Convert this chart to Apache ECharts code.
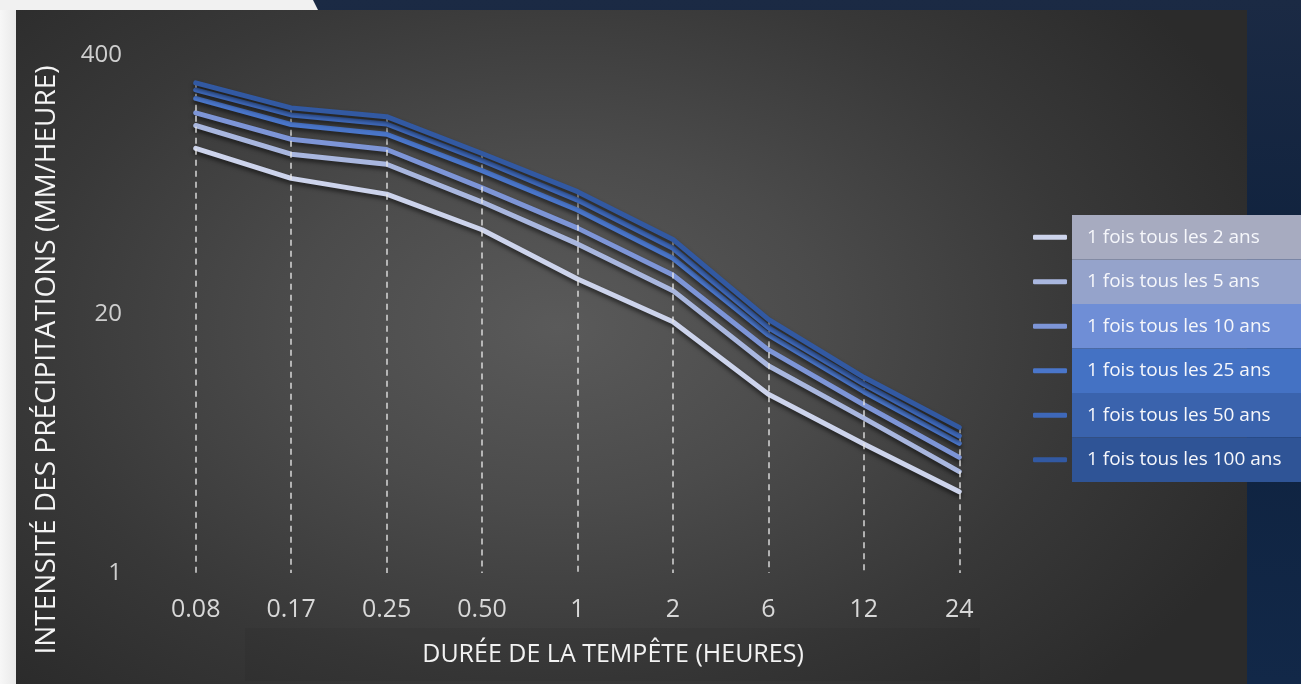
<!DOCTYPE html>
<html lang="fr">
<head>
<meta charset="utf-8">
<title>Intensité des précipitations</title>
<script src="https://cdn.jsdelivr.net/npm/echarts@6/dist/echarts.min.js"></script>
<style>
  html, body { margin: 0; padding: 0; }
  body {
    width: 1301px; height: 684px; overflow: hidden; position: relative;
    background: linear-gradient(180deg, #1b2a44 0%, #0e213d 45%, #122848 100%);
  }
  #sheet-left {
    position: absolute; left: 0; top: 0; width: 16px; height: 684px;
    background: linear-gradient(90deg, #f7f7f7, #e9e9e9);
  }
  #sheet-top {
    position: absolute; left: 0; top: 0; width: 320px; height: 10px;
    background: #f1f1f1;
    clip-path: polygon(0 0, 313px 0, 318px 10px, 0 10px);
  }
  #panel {
    position: absolute; left: 16px; top: 10px; width: 1231px; height: 674px;
    background: radial-gradient(ellipse 62% 75% at 44% 47%, #5a5a5a 0%, #4b4b4b 35%, #383838 70%, #2b2b2b 100%);
  }
  #chart { position: absolute; left: 0; top: 0; width: 1301px; height: 684px; }
</style>
</head>
<body>
<div id="sheet-left"></div>
<div id="sheet-top"></div>
<div id="panel"></div>
<div id="chart"></div>
<script>
// Durée de la tempête (heures)
const durations = ['0.08', '0.17', '0.25', '0.50', '1', '2', '6', '12', '24'];
// Graduations de l'axe logarithmique (mm/heure)
const intensityTicks = [1, 20, 400];

// Intensité (mm/heure) par période de retour
const seriesNames = [
  '1 fois tous les 2 ans',
  '1 fois tous les 5 ans',
  '1 fois tous les 10 ans',
  '1 fois tous les 25 ans',
  '1 fois tous les 50 ans',
  '1 fois tous les 100 ans'
];
const retour2   = [136, 96, 80, 53, 30, 18.3, 7.9, 4.45, 2.56];
const retour5   = [177, 127, 113, 73, 45, 26.2, 11.0, 6.0, 3.23];
const retour10  = [205, 151, 134, 86, 54, 31.4, 13.2, 7.0, 3.81];
const retour25  = [242, 179, 160, 105, 66.6, 38.1, 15.7, 8.14, 4.48];
const retour50  = [267, 200, 180, 118, 74.7, 42.8, 17.1, 8.9, 4.88];
const retour100 = [290, 217, 196, 128, 82.3, 47.4, 18.8, 9.62, 5.39];
const seriesValues = [retour2, retour5, retour10, retour25, retour50, retour100];

// Couleurs des courbes et des cases de la légende
const lineColors = ['#cdd4ec', '#a9b7df', '#7d95d7', '#4a76ca', '#3e68b9', '#3259a2'];
const boxColors  = ['#a7abc0', '#95a3cb', '#6f8ed6', '#4472c4', '#3a63ad', '#2f5496'];

const chart = echarts.init(document.getElementById('chart'), null, { renderer: 'canvas' });

const rich = {};
boxColors.forEach((c, i) => {
  rich['b' + i] = {
    backgroundColor: c,
    width: 214,
    height: 44.5,
    lineHeight: 44.5,
    padding: [0, 0, 0, 15],
    color: '#f6f7fb',
    fontSize: 19,
    fontFamily: '"Open Sans", "Noto Sans", sans-serif'
  };
});

// Traits verticaux pointillés : du sommet de chaque durée jusqu'à l'axe
const topValues = durations.map((_, j) => Math.max(...seriesValues.map(s => s[j])));
const dropLines = durations.map((d, j) => [
  { coord: [d, topValues[j]] },
  { coord: [d, intensityTicks[0]] }
]);

const lineSeries = seriesValues.map((vals, i) => ({
  name: seriesNames[i],
  type: 'line',
  data: vals,
  symbol: 'none',
  silent: true,
  z: 2 + i,
  itemStyle: { color: lineColors[i] },
  lineStyle: {
    width: 5,
    color: lineColors[i],
    cap: 'round',
    join: 'round',
    shadowColor: 'rgba(0,0,0,0.55)',
    shadowBlur: 4,
    shadowOffsetY: 3
  }
}));

lineSeries.push({
  name: 'repères',
  type: 'line',
  data: [],
  silent: true,
  z: 20,
  markLine: {
    silent: true,
    symbol: ['none', 'none'],
    label: { show: false },
    lineStyle: { color: 'rgba(232,232,232,0.9)', width: 1.5, type: [6, 5] },
    data: dropLines
  }
});

chart.setOption({
  animation: false,
  grid: { left: 148, right: 294, top: 55, bottom: 111 },
  xAxis: {
    type: 'category',
    data: durations,
    boundaryGap: true,
    axisLine: { show: false },
    axisTick: { show: false },
    splitLine: { show: false },
    axisLabel: {
      margin: 24,
      color: '#d8d8d8',
      fontSize: 25,
      fontFamily: '"Open Sans", "Noto Sans", sans-serif'
    }
  },
  yAxis: {
    type: 'log',
    logBase: 20,
    min: intensityTicks[0],
    max: intensityTicks[intensityTicks.length - 1],
    splitNumber: 2,
    axisLine: { show: false },
    axisTick: { show: false },
    splitLine: { show: false },
    axisLabel: {
      margin: 26,
      color: '#cfcfcf',
      fontSize: 24,
      fontFamily: '"Open Sans", "Noto Sans", sans-serif',
      formatter: v => String(Math.round(v))
    }
  },
  legend: {
    orient: 'vertical',
    left: 1028,
    top: 210,
    itemGap: 0,
    itemWidth: 34,
    itemHeight: 5,
    icon: 'roundRect',
    selectedMode: false,
    data: seriesNames,
    formatter: name => '{b' + seriesNames.indexOf(name) + '|' + name + '}',
    textStyle: { rich: rich }
  },
  graphic: [
    {
      type: 'rect',
      silent: true,
      shape: { x: 245, y: 628, width: 735, height: 53 },
      style: { fill: 'rgba(0,0,0,0.05)' }
    },
    {
      type: 'text',
      silent: true,
      x: 613,
      y: 655,
      style: {
        text: 'DURÉE DE LA TEMPÊTE (HEURES)',
        fill: '#f2f2f2',
        font: '25px "Open Sans", "Noto Sans", sans-serif',
        align: 'center',
        verticalAlign: 'middle'
      }
    },
    {
      type: 'text',
      silent: true,
      x: 47,
      y: 360,
      rotation: Math.PI / 2,
      style: {
        text: 'INTENSITÉ DES PRÉCIPITATIONS (MM/HEURE)',
        fill: '#f4f4f4',
        font: '28px "Open Sans", "Noto Sans", sans-serif',
        align: 'center',
        verticalAlign: 'middle'
      }
    }
  ],
  series: lineSeries
});
</script>
</body>
</html>
